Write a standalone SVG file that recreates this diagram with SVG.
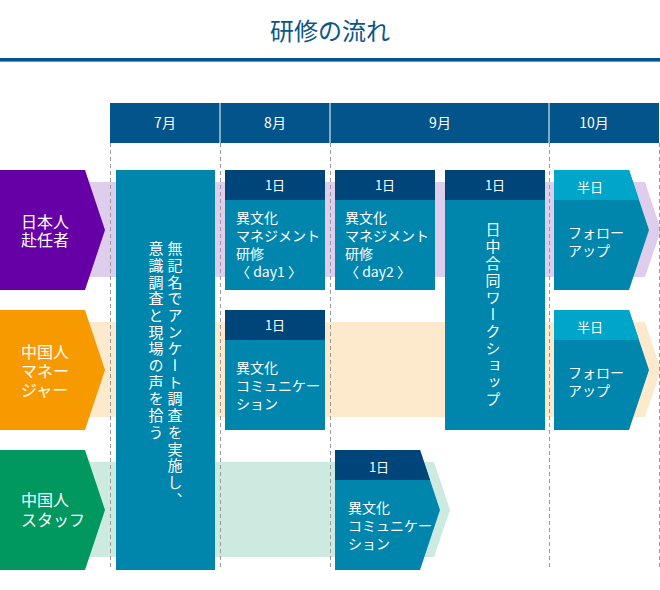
<svg xmlns="http://www.w3.org/2000/svg" width="660" height="590" viewBox="0 0 660 590">
<style>
text{font-family:"Noto Sans CJK JP","Noto Sans",sans-serif;fill:#fff}
.title{fill:#0b5688;font-size:24px}
.mon{font-size:14px;text-anchor:middle}
.lab{font-size:16px}
.t{font-size:14px}
.hd{font-size:13px;text-anchor:middle}
.v{font-size:15px;writing-mode:vertical-rl;letter-spacing:1.7px}
.body{fill:#0085ad}
.dk{fill:#00457a}
.lt{fill:#00a5ca}
.grid{stroke:#9a9a9a;stroke-width:1;stroke-dasharray:4 3;fill:none}
</style>
<rect width="660" height="590" fill="#fff"/>
<text class="title" x="330" y="40" text-anchor="middle">研修の流れ</text>
<rect x="0" y="58" width="660" height="3.6" fill="#03548a"/>
<g id="header">
<rect x="110" y="103" width="550" height="40" fill="#03548a"/>
<g stroke="#fff" stroke-width="1"><line x1="220" y1="103" x2="220" y2="143"/><line x1="330" y1="103" x2="330" y2="143"/><line x1="549" y1="103" x2="549" y2="143"/><line x1="659.5" y1="103" x2="659.5" y2="143"/></g>
<text class="mon" x="165" y="128">7月</text>
<text class="mon" x="275" y="128">8月</text>
<text class="mon" x="440" y="128">9月</text>
<text class="mon" x="594" y="128">10月</text>
</g>
<g id="bands">
<polygon points="60,182 645,182 661,230 645,277 60,277" fill="#dfcdee"/>
<polygon points="60,322 645,322 661,370 645,417 60,417" fill="#fdeacc"/>
<polygon points="60,462 434,462 450,510 434,557 60,557" fill="#cdeae0"/>
</g>
<g id="connectors" class="grid">
<line x1="110.5" y1="143" x2="110.5" y2="570"/>
<line x1="220.5" y1="143" x2="220.5" y2="570"/>
<line x1="330.5" y1="143" x2="330.5" y2="570"/>
<line x1="549.5" y1="143" x2="549.5" y2="570"/>
<line x1="659.5" y1="143" x2="659.5" y2="570"/>
</g>
<g id="label-jp">
<polygon points="0,170 85,170 105,230 85,290 0,290" fill="#6600a6"/>
<text class="lab"><tspan x="21" y="228">日本人</tspan><tspan x="21" y="246">赴任者</tspan></text>
</g>
<g id="label-cnmgr">
<polygon points="0,310 85,310 105,370 85,430 0,430" fill="#f79a00"/>
<text class="lab"><tspan x="21" y="358">中国人</tspan><tspan x="21" y="377">マネー</tspan><tspan x="21" y="396">ジャー</tspan></text>
</g>
<g id="label-cnstaff">
<polygon points="0,450 85,450 105,510 85,570 0,570" fill="#00985f"/>
<text class="lab"><tspan x="21" y="506">中国人</tspan><tspan x="21" y="526">スタッフ</tspan></text>
</g>
<g id="survey">
<rect class="body" x="116" y="170" width="99" height="400"/>
<text class="v" x="175" y="241">無記名でアンケート調査を実施し、</text>
<text class="v" x="156" y="241">意識調査と現場の声を拾う</text>
</g>
<g id="day1">
<rect class="body" x="225" y="170" width="100" height="120"/>
<rect class="dk" x="225" y="170" width="100" height="30"/>
<text class="hd" x="275" y="190">1日</text>
<text class="t"><tspan x="236" y="223">異文化</tspan><tspan x="236" y="241">マネジメント</tspan><tspan x="236" y="259">研修</tspan><tspan x="236" y="277">〈 day1 〉</tspan></text>
</g>
<g id="comm-mgr">
<rect class="body" x="225" y="310" width="100" height="120"/>
<rect class="dk" x="225" y="310" width="100" height="30"/>
<text class="hd" x="275" y="330">1日</text>
<text class="t"><tspan x="236" y="373">異文化</tspan><tspan x="236" y="391">コミュニケー</tspan><tspan x="236" y="409">ション</tspan></text>
</g>
<g id="day2">
<rect class="body" x="335" y="170" width="100" height="120"/>
<rect class="dk" x="335" y="170" width="100" height="30"/>
<text class="hd" x="385" y="190">1日</text>
<text class="t"><tspan x="345" y="223">異文化</tspan><tspan x="345" y="241">マネジメント</tspan><tspan x="345" y="259">研修</tspan><tspan x="345" y="277">〈 day2 〉</tspan></text>
</g>
<g id="workshop">
<rect class="body" x="445" y="170" width="100" height="260"/>
<rect class="dk" x="445" y="170" width="100" height="30"/>
<text class="hd" x="495" y="190">1日</text>
<text class="v" x="493" y="222" style="letter-spacing:2px">日中合同ワークショップ</text>
</g>
<g id="comm-staff">
<polygon class="body" points="335,450 420,450 440,510 420,570 335,570"/>
<polygon class="dk" points="335,450 420,450 430,480 335,480"/>
<text class="hd" x="379" y="472">1日</text>
<text class="t"><tspan x="348" y="513">異文化</tspan><tspan x="348" y="531">コミュニケー</tspan><tspan x="348" y="549">ション</tspan></text>
</g>
<g id="followup-jp">
<polygon class="body" points="554,170 629,170 649,230 629,290 554,290"/>
<polygon class="lt" points="554,170 629,170 639,200 554,200"/>
<text class="hd" x="590" y="192">半日</text>
<text class="t"><tspan x="568" y="238">フォロー</tspan><tspan x="568" y="256">アップ</tspan></text>
</g>
<g id="followup-cn">
<polygon class="body" points="554,310 629,310 649,370 629,430 554,430"/>
<polygon class="lt" points="554,310 629,310 639,340 554,340"/>
<text class="hd" x="590" y="332">半日</text>
<text class="t"><tspan x="568" y="378">フォロー</tspan><tspan x="568" y="396">アップ</tspan></text>
</g>
</svg>
